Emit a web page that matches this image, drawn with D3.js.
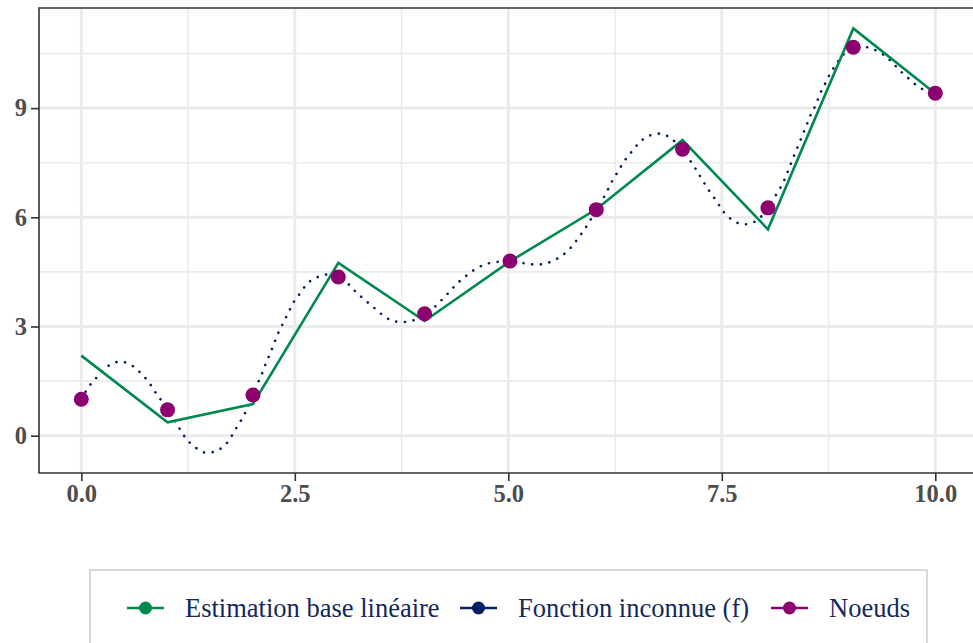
<!DOCTYPE html>
<html>
<head>
<meta charset="utf-8">
<script src="https://cdn.jsdelivr.net/npm/d3@7"></script>
<style>
  body { margin: 0; background: #fff; }
  svg { display: block; font-family: "Liberation Serif", "Times New Roman", serif; }
</style>
</head>
<body>
<svg id="chart"></svg>
<script>
const width = 973, height = 643;

// noeuds (points violets)
const nodeX = [0, 1.01, 2.01, 3.01, 4.02, 5.02, 6.03, 7.04, 8.04, 9.04, 10];
const nodeY = [1.0, 0.71, 1.12, 4.36, 3.35, 4.80, 6.21, 7.87, 6.26, 10.67, 9.41];

// estimation base linéaire (vert), valeurs aux noeuds
const estY = [2.20, 0.37, 0.87, 4.75, 3.15, 4.79, 6.22, 8.12, 5.67, 11.19, 9.40];

// fonction inconnue f
const fX = [0, 0.08, 0.16, 0.35, 0.48, 0.60, 0.70, 0.79, 0.86, 0.94, 1.05, 1.16, 1.23, 1.33, 1.44,
  1.57, 1.68, 1.76, 1.83, 1.90, 1.96, 2.01, 2.06, 2.11, 2.16, 2.21, 2.26, 2.31, 2.37, 2.43, 2.49,
  2.57, 2.65, 2.76, 2.88, 3.0, 3.13, 3.22, 3.32, 3.42, 3.52, 3.63, 3.77, 3.90, 4.02, 4.12, 4.22,
  4.31, 4.40, 4.50, 4.61, 4.73, 4.86, 5.0, 5.13, 5.26, 5.39, 5.52, 5.63, 5.73, 5.81, 5.89, 5.96,
  6.03, 6.10, 6.16, 6.22, 6.29, 6.36, 6.44, 6.53, 6.63, 6.76, 6.89, 7.02, 7.15, 7.22, 7.29, 7.36,
  7.44, 7.51, 7.61, 7.72, 7.85, 7.96, 8.04, 8.11, 8.18, 8.24, 8.29, 8.34, 8.39, 8.44, 8.49, 8.54,
  8.60, 8.65, 8.71, 8.77, 8.84, 8.92, 9.04, 9.16, 9.29, 9.42, 9.50, 9.59, 9.70, 9.81, 9.90, 10];
const fY = [1.0, 1.32, 1.55, 1.97, 2.03, 1.92, 1.71, 1.47, 1.22, 0.96, 0.58, 0.16, -0.09, -0.31, -0.46,
  -0.43, -0.26, -0.01, 0.27, 0.54, 0.83, 1.12, 1.41, 1.67, 1.98, 2.25, 2.55, 2.84, 3.12, 3.41, 3.68,
  3.94, 4.19, 4.35, 4.43, 4.40, 4.16, 3.94, 3.73, 3.53, 3.33, 3.17, 3.12, 3.18, 3.34, 3.50, 3.73,
  3.95, 4.18, 4.38, 4.57, 4.71, 4.77, 4.79, 4.76, 4.71, 4.71, 4.80, 4.95, 5.16, 5.40, 5.66, 5.92,
  6.20, 6.47, 6.73, 7.01, 7.28, 7.55, 7.79, 8.04, 8.22, 8.30, 8.20, 7.88, 7.49, 7.23, 6.96, 6.70,
  6.44, 6.18, 5.95, 5.82, 5.84, 6.02, 6.25, 6.52, 6.79, 7.07, 7.36, 7.66, 7.94, 8.23, 8.52, 8.81,
  9.09, 9.39, 9.67, 9.95, 10.21, 10.46, 10.67, 10.69, 10.60, 10.42, 10.24, 10.02, 9.79, 9.57, 9.48, 9.41];

const xTicks = [0, 2.5, 5, 7.5, 10];
const xMinor = [1.25, 3.75, 6.25, 8.75];
const yTicks = [0, 3, 6, 9];
const yMinor = [1.5, 4.5, 7.5, 10.5];

const legendLabels = ["Estimation base linéaire", "Fonction inconnue (f)", "Noeuds"];
const green = "#00894f", navy = "#03215e", purple = "#8c0070";
const legendColors = [green, navy, purple];

const panel = {left: 39, top: 8, right: 990, bottom: 473};

const x = d3.scaleLinear().domain([0, 10]).range([81.3, 935.3]);
const y = d3.scaleLinear().domain([0, 9]).range([435.7, 108.1]);

const svg = d3.select("#chart").attr("width", width).attr("height", height);

// grille
const grid = svg.append("g");
grid.selectAll(".xmin").data(xMinor).enter().append("line")
  .attr("x1", d => x(d)).attr("x2", d => x(d))
  .attr("y1", panel.top).attr("y2", panel.bottom)
  .attr("stroke", "#ebebeb").attr("stroke-width", 1.6);
grid.selectAll(".ymin").data(yMinor).enter().append("line")
  .attr("y1", d => y(d)).attr("y2", d => y(d))
  .attr("x1", panel.left).attr("x2", panel.right)
  .attr("stroke", "#ebebeb").attr("stroke-width", 1.6);
grid.selectAll(".xmaj").data(xTicks).enter().append("line")
  .attr("x1", d => x(d)).attr("x2", d => x(d))
  .attr("y1", panel.top).attr("y2", panel.bottom)
  .attr("stroke", "#ebebeb").attr("stroke-width", 3);
grid.selectAll(".ymaj").data(yTicks).enter().append("line")
  .attr("y1", d => y(d)).attr("y2", d => y(d))
  .attr("x1", panel.left).attr("x2", panel.right)
  .attr("stroke", "#ebebeb").attr("stroke-width", 3);

// fonction inconnue (pointillés)
const fData = fX.map((v, i) => ({x: v, y: fY[i]}));
svg.append("path")
  .datum(fData)
  .attr("fill", "none")
  .attr("stroke", navy)
  .attr("stroke-width", 2.6)
  .attr("stroke-linecap", "round")
  .attr("stroke-dasharray", "0.1,8.6")
  .attr("d", d3.line().x(d => x(d.x)).y(d => y(d.y)).curve(d3.curveCatmullRom));

// estimation
const estData = nodeX.map((v, i) => ({x: v, y: estY[i]}));
svg.append("path")
  .datum(estData)
  .attr("fill", "none")
  .attr("stroke", green)
  .attr("stroke-width", 2.6)
  .attr("stroke-linejoin", "miter")
  .attr("d", d3.line().x(d => x(d.x)).y(d => y(d.y)));

// noeuds
svg.selectAll(".node").data(nodeX).enter().append("circle")
  .attr("cx", d => x(d))
  .attr("cy", (d, i) => y(nodeY[i]))
  .attr("r", 7.5)
  .attr("fill", purple);

// cadre
svg.append("path")
  .attr("d", "M" + panel.right + "," + panel.top + "H" + panel.left + "V" + panel.bottom + "H" + panel.right)
  .attr("fill", "none").attr("stroke", "#333").attr("stroke-width", 1.6);

// axes
const xAxis = svg.append("g")
  .attr("transform", "translate(0," + panel.bottom + ")")
  .call(d3.axisBottom(x).tickValues(xTicks).tickFormat(d3.format(".1f")).tickSize(8).tickPadding(4));
const yAxis = svg.append("g")
  .attr("transform", "translate(" + panel.left + ",0)")
  .call(d3.axisLeft(y).tickValues(yTicks).tickFormat(d3.format("d")).tickSize(8).tickPadding(4));
[xAxis, yAxis].forEach(a => {
  a.select(".domain").remove();
  a.selectAll(".tick line").attr("stroke", "#333").attr("stroke-width", 1.6);
  a.selectAll(".tick text")
    .attr("fill", "#4d4d4d")
    .style("font-family", "'Liberation Serif', serif")
    .style("font-weight", "bold")
    .style("font-size", "24.5px");
});

// légende
svg.append("rect")
  .attr("x", 90).attr("y", 570).attr("width", 837).attr("height", 100)
  .attr("fill", "#fff").attr("stroke", "#d9d9d9").attr("stroke-width", 2);

const keyX = [127, 460, 771];
const leg = svg.selectAll(".leg").data(legendLabels).enter().append("g")
  .attr("transform", (d, i) => "translate(" + keyX[i] + ",608)");
leg.append("line")
  .attr("x1", 0).attr("x2", 37).attr("y1", 0).attr("y2", 0)
  .attr("stroke", (d, i) => legendColors[i]).attr("stroke-width", 2.6);
leg.append("circle")
  .attr("cx", 18.5).attr("cy", 0).attr("r", 6.5)
  .attr("fill", (d, i) => legendColors[i]);
leg.append("text")
  .attr("x", 58).attr("y", 9)
  .attr("fill", "#13295c")
  .style("font-size", "26.5px")
  .text(d => d);
</script>
</body>
</html>
